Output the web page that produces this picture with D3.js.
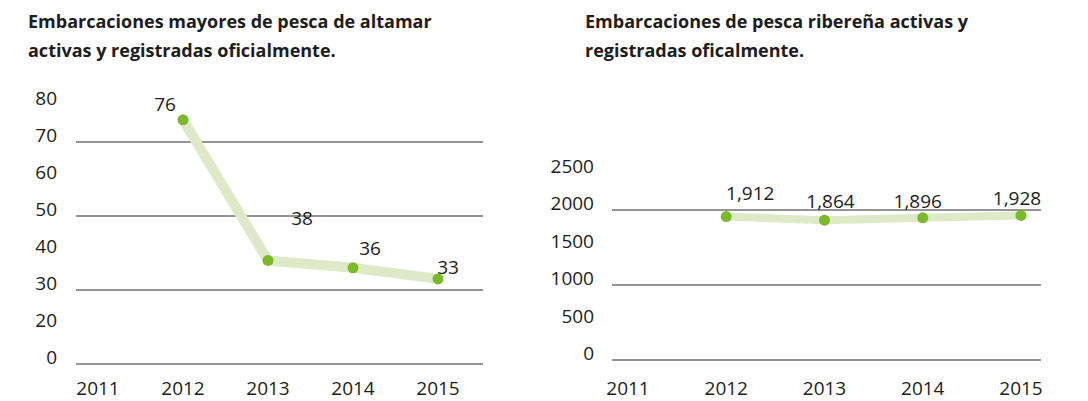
<!DOCTYPE html>
<html>
<head>
<meta charset="utf-8">
<script src="https://cdn.jsdelivr.net/npm/d3@7"></script>
<style>
  body { margin: 0; background: #fff; }
  svg text { font-family: "Open Sans", "Noto Sans", sans-serif; fill: #1d1d1b; }
</style>
</head>
<body>
<script>
// data
var years = [2011, 2012, 2013, 2014, 2015];

var altamarTitle = ["Embarcaciones mayores de pesca de altamar", "activas y registradas oficialmente."];
var altamarYears = [2012, 2013, 2014, 2015];
var altamarValues = [76, 38, 36, 33];
var altamarTicks = [0, 20, 30, 40, 50, 60, 70, 80];
var altamarGrid = [0, 30, 50, 70];

var riberenaTitle = ["Embarcaciones de pesca ribereña activas y", "registradas oficalmente."];
var riberenaYears = [2012, 2013, 2014, 2015];
var riberenaValues = [1912, 1864, 1896, 1928];
var riberenaTicks = [0, 500, 1000, 1500, 2000, 2500];
var riberenaGrid = [0, 1000, 2000];

var W = 1088, H = 401;
var svg = d3.select("body").append("svg").attr("width", W).attr("height", H);

function drawChart(opts) {
  var g = svg.append("g");

  g.selectAll(".title")
    .data(opts.title)
    .enter()
    .append("text")
    .attr("x", opts.titleX)
    .attr("y", function (d, i) { return 28 + i * 29; })
    .style("font-size", "18px")
    .style("font-weight", 700)
    .text(function (d) { return d; });

  var x = d3.scalePoint().domain(years).range(opts.xRange);
  var y = d3.scaleLinear().domain(opts.yDomain).range(opts.yRange);

  // gridlines
  g.selectAll(".grid")
    .data(opts.grid)
    .enter()
    .append("line")
    .attr("x1", opts.gridX[0])
    .attr("x2", opts.gridX[1])
    .attr("y1", function (d) { return y(d); })
    .attr("y2", function (d) { return y(d); })
    .attr("stroke", "#2b2b2b")
    .attr("stroke-width", 1.2);

  // y labels
  g.selectAll(".ylab")
    .data(opts.ticks)
    .enter()
    .append("text")
    .attr("x", opts.yLabelX)
    .attr("y", function (d) { return y(d); })
    .attr("text-anchor", "end")
    .style("font-size", "19px")
    .text(function (d) { return d; });

  // x labels
  g.selectAll(".xlab")
    .data(years)
    .enter()
    .append("text")
    .attr("x", function (d) { return x(d); })
    .attr("y", 395)
    .attr("text-anchor", "middle")
    .style("font-size", "19px")
    .text(function (d) { return d; });

  var pts = opts.years.map(function (yr, i) { return { year: yr, value: opts.values[i] }; });

  var line = d3.line()
    .x(function (d) { return x(d.year); })
    .y(function (d) { return y(d.value); });

  g.append("path")
    .datum(pts)
    .attr("d", line)
    .attr("fill", "none")
    .attr("stroke", "#dde9c7")
    .attr("stroke-width", opts.lineWidth)
    .attr("stroke-linejoin", "round");

  g.selectAll(".dot")
    .data(pts)
    .enter()
    .append("circle")
    .attr("cx", function (d) { return x(d.year); })
    .attr("cy", function (d) { return y(d.value); })
    .attr("r", 5.5)
    .attr("fill", "#7ab929");

  // value labels, nudged off the points
  g.selectAll(".vlab")
    .data(pts)
    .enter()
    .append("text")
    .attr("x", function (d, i) { return x(d.year) + opts.nudge[i][0]; })
    .attr("y", function (d, i) { return y(d.value) + opts.nudge[i][1] + 7; })
    .attr("text-anchor", "middle")
    .style("font-size", "19px")
    .text(function (d) { return opts.fmt(d.value); });
}

drawChart({
  title: altamarTitle,
  titleX: 28,
  years: altamarYears,
  values: altamarValues,
  ticks: altamarTicks,
  grid: altamarGrid,
  yDomain: [0, 20, 80],
  yRange: [364, 327, 105],
  xRange: [98, 438],
  gridX: [76, 483],
  yLabelX: 57,
  lineWidth: 10,
  nudge: [[-18, -16], [34, -42], [17, -20], [10, -12]],
  fmt: d3.format("d")
});

drawChart({
  title: riberenaTitle,
  titleX: 585,
  years: riberenaYears,
  values: riberenaValues,
  ticks: riberenaTicks,
  grid: riberenaGrid,
  yDomain: [0, 2500],
  yRange: [360, 172.5],
  xRange: [628, 1021],
  gridX: [612, 1041],
  yLabelX: 594,
  lineWidth: 8,
  nudge: [[24, -24], [6, -19], [-5, -17], [-4, -17]],
  fmt: d3.format(",")
});
</script>
</body>
</html>
